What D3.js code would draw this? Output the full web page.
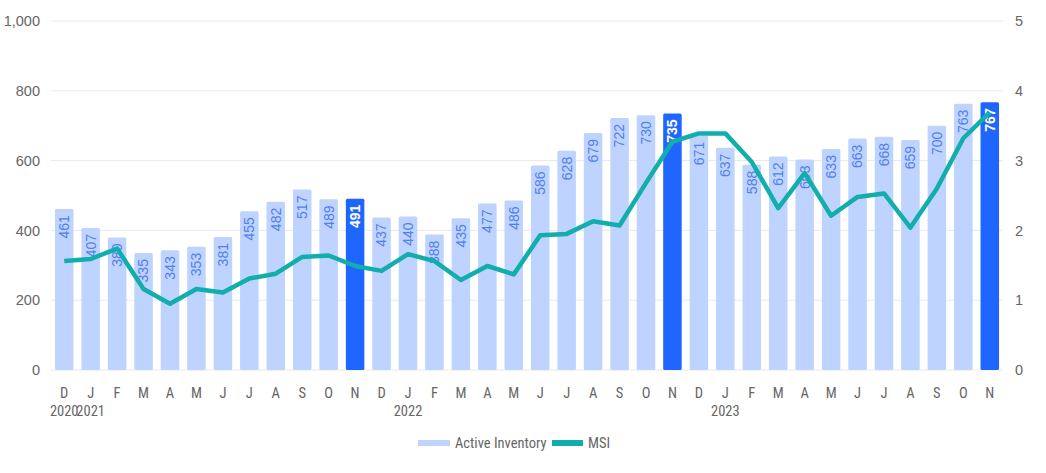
<!DOCTYPE html>
<html lang="en">
<head>
<meta charset="UTF-8">
<title>Active Inventory and MSI</title>
<script src="https://d3js.org/d3.v7.min.js"></script>
<style>
    body {
        margin: 0;
        background-color: #ffffff;
        font-family: "Liberation Sans Narrow", "Roboto Condensed", "Arial Narrow", Roboto, sans-serif;
    }
    .axis text {
        fill: #666666;
        font-size: 14.5px;
    }
    .grid line {
        stroke: #e8e8e8;
        stroke-width: 1px;
    }
    .bar-label {
        font-family: "Liberation Sans", Arial, sans-serif;
        font-size: 14px;
    }
</style>
</head>
<body>
<div id="chart"></div>
<script>
    const months = ["D","J","F","M","A","M","J","J","A","S","O","N",
                    "D","J","F","M","A","M","J","J","A","S","O","N",
                    "D","J","F","M","A","M","J","J","A","S","O","N"];
    const years = ["2020","2021","","","","","","","","","","",
                   "","2022","","","","","","","","","","",
                   "","2023","","","","","","","","","",""];
    const inventory = [461, 407, 380, 335, 343, 353, 381, 455, 482, 517, 489, 491,
                       437, 440, 388, 435, 477, 486, 586, 628, 679, 722, 730, 735,
                       671, 637, 588, 612, 603, 633, 663, 668, 659, 700, 763, 767];
    const msi = [1.56, 1.59, 1.74, 1.16, 0.95, 1.16, 1.11, 1.31, 1.38, 1.62, 1.64, 1.49,
                 1.42, 1.66, 1.56, 1.29, 1.49, 1.37, 1.93, 1.95, 2.13, 2.07, 2.68, 3.27,
                 3.39, 3.39, 2.98, 2.32, 2.82, 2.21, 2.48, 2.53, 2.04, 2.60, 3.32, 3.69];
    const highlighted = [11, 23, 35];
    const leftTicks = [0, 200, 400, 600, 800, 1000];
    const rightTicks = [0, 1, 2, 3, 4, 5];

    const width = 1046, height = 473;
    const margin = { top: 21, right: 43, bottom: 103, left: 51 };

    const svg = d3.select("#chart").append("svg")
        .attr("width", width)
        .attr("height", height);

    const x = d3.scaleBand()
        .domain(d3.range(months.length))
        .range([margin.left, width - margin.right])
        .paddingInner(0.3)
        .paddingOuter(0.15);

    const y = d3.scaleLinear().domain([0, 1000]).range([height - margin.bottom, margin.top]);
    const y2 = d3.scaleLinear().domain([0, 5]).range([height - margin.bottom, margin.top]);

    // gridlines
    svg.append("g")
        .attr("class", "grid")
        .selectAll("line")
        .data(leftTicks)
        .enter().append("line")
        .attr("x1", margin.left)
        .attr("x2", width - margin.right)
        .attr("y1", d => y(d))
        .attr("y2", d => y(d));

    // left axis
    svg.append("g")
        .attr("class", "axis")
        .attr("transform", `translate(${margin.left},0)`)
        .call(d3.axisLeft(y).tickValues(leftTicks).tickFormat(d3.format(",")).tickSize(0).tickPadding(11))
        .call(g => g.select(".domain").remove());

    // right axis
    svg.append("g")
        .attr("class", "axis")
        .attr("transform", `translate(${width - margin.right},0)`)
        .call(d3.axisRight(y2).tickValues(rightTicks).tickFormat(d3.format("d")).tickSize(0).tickPadding(12))
        .call(g => g.select(".domain").remove());

    // bars
    svg.append("g")
        .selectAll("rect")
        .data(inventory)
        .enter().append("rect")
        .attr("x", (d, i) => x(i))
        .attr("y", d => y(d))
        .attr("width", x.bandwidth())
        .attr("height", d => y(0) - y(d))
        .attr("rx", 1.5)
        .attr("fill", (d, i) => highlighted.includes(i) ? "#1f66ff" : "#bed3fd");

    // bar labels (rotated, inside top)
    svg.append("g")
        .selectAll("text")
        .data(inventory)
        .enter().append("text")
        .attr("class", "bar-label")
        .attr("transform", (d, i) => `translate(${x(i) + x.bandwidth() / 2},${y(d) + 6}) rotate(-90)`)
        .attr("text-anchor", "end")
        .attr("dy", "0.35em")
        .attr("fill", (d, i) => highlighted.includes(i) ? "#ffffff" : "#4f7ff0")
        .attr("font-weight", (d, i) => highlighted.includes(i) ? "bold" : "normal")
        .text(d => d);

    // MSI line
    const line = d3.line()
        .x((d, i) => x(i) + x.bandwidth() / 2)
        .y(d => y2(d));

    svg.append("path")
        .datum(msi)
        .attr("fill", "none")
        .attr("stroke", "#12adad")
        .attr("stroke-width", 4.5)
        .attr("stroke-linejoin", "round")
        .attr("d", line);

    // x axis month labels
    const xAxis = svg.append("g").attr("class", "axis");
    xAxis.selectAll(".month")
        .data(months)
        .enter().append("text")
        .attr("class", "month")
        .attr("x", (d, i) => x(i) + x.bandwidth() / 2)
        .attr("y", height - margin.bottom + 28)
        .attr("text-anchor", "middle")
        .text(d => d);

    xAxis.selectAll(".year")
        .data(years)
        .enter().append("text")
        .attr("class", "year")
        .attr("x", (d, i) => x(i) + x.bandwidth() / 2)
        .attr("y", height - margin.bottom + 46)
        .attr("text-anchor", "middle")
        .text(d => d);

    // legend
    const legend = svg.append("g")
        .attr("class", "axis")
        .attr("transform", `translate(418,${height - 30})`);
    legend.append("rect")
        .attr("x", 0).attr("y", -3)
        .attr("width", 32).attr("height", 6)
        .attr("fill", "#bed3fd");
    legend.append("text")
        .attr("x", 37).attr("dy", "0.35em")
        .text("Active Inventory");
    legend.append("rect")
        .attr("x", 134).attr("y", -3)
        .attr("width", 31).attr("height", 6)
        .attr("fill", "#12adad");
    legend.append("text")
        .attr("x", 170).attr("dy", "0.35em")
        .text("MSI");
</script>
</body>
</html>
